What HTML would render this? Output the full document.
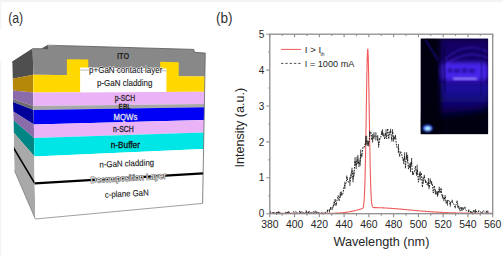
<!DOCTYPE html>
<html><head><meta charset="utf-8"><style>
html,body{margin:0;padding:0;background:#fff;}
body{width:503px;height:256px;overflow:hidden;position:relative;}
svg{position:absolute;left:0;top:0;display:block;}
</style></head><body>
<svg width="503" height="256" viewBox="0 0 503 256">
<rect x="0" y="0" width="503" height="256" fill="#fff"/>
<rect x="0" y="0" width="503" height="2" fill="#f3f3f3"/>
<rect x="0" y="0" width="1.2" height="256" fill="#f4f4f4"/>
<g font-family="Liberation Sans, sans-serif" fill="#333">
<text x="8.2" y="23" font-size="14" textLength="15" lengthAdjust="spacingAndGlyphs">(a)</text>
<text x="216" y="23" font-size="14" textLength="16.6" lengthAdjust="spacingAndGlyphs">(b)</text>
</g>
<clipPath id="lf"><polygon points="12.2,62 32.8,48.7 35.3,219 14.4,170.5"/></clipPath>
<g clip-path="url(#lf)">
<polygon points="32.67,40 33.18,74.8 12.54,78.84 12.06,55" fill="#4F4F4F"/>
<polygon points="33.18,74.8 33.44,92.5 12.78,90.47 12.54,78.84" fill="#B5880A"/>
<polygon points="33.44,92.5 33.64,106 12.96,99.34 12.78,90.47" fill="#8C6BAA"/>
<polygon points="33.64,106 33.7,110 13.01,101.97 12.96,99.34" fill="#6E6E6E"/>
<polygon points="33.7,110 33.91,124.4 13.2,111.43 13.01,101.97" fill="#000099"/>
<polygon points="33.91,124.4 34.11,137.9 13.38,120.3 13.2,111.43" fill="#8C6BAA"/>
<polygon points="34.11,137.9 34.38,156.4 13.63,132.45 13.38,120.3" fill="#008585"/>
<polygon points="34.38,156.4 35.46,230 14.61,180.81 13.63,132.45" fill="#A9A9A9"/>
<line x1="34.78" y1="183.4" x2="10.95" y2="143.5" stroke="#000" stroke-width="1.6"/>
</g>
<polygon points="32.76,46 205.43,46 204.88,76.4 33.18,74.8" fill="#888888"/>
<polygon points="33.18,74.8 204.88,76.4 204.6,91.8 33.44,92.5" fill="#FFD800"/>
<polygon points="33.44,92.5 204.6,91.8 204.39,103.9 33.64,106" fill="#EBB3F7"/>
<polygon points="33.64,106 204.39,103.9 204.33,107.2 33.7,110" fill="#A8A8A8"/>
<polygon points="33.7,110 204.33,107.2 204.1,119.9 33.91,124.4" fill="#0000F5"/>
<polygon points="33.91,124.4 204.1,119.9 203.87,132.5 34.11,137.9" fill="#EBB3F7"/>
<polygon points="34.11,137.9 203.87,132.5 203.58,149 34.38,156.4" fill="#00E6E6"/>
<polygon points="34.38,156.4 203.58,149 202.6,203.4 35.3,219" fill="#FFFFFF"/>
<polygon points="0,30 220,30 220,53.1 205.3,53.1 194.5,52.3 193.7,49.4 47.9,45.2 41.9,48.7 32.8,48.7 0,62" fill="#fff"/>
<polygon points="41.9,48.7 47.9,45.2 47.9,49.2" fill="#555"/>
<polyline points="32.8,48.7 41.9,48.7 47.9,45.2 193.7,49.4 194.5,52.3 205.3,53.1" fill="none" stroke="#555" stroke-width="0.8"/>
<polyline points="12.2,62 32.8,48.7" fill="none" stroke="#3a3a3a" stroke-width="0.8"/>
<polygon points="66.9,75.2 66.9,59.2 88.3,59.5 88.3,76" fill="#FFD800"/>
<polygon points="160.2,77 160.2,61.8 178.7,62.2 178.7,77" fill="#FFD800"/>
<polygon points="80.1,67.4 166.4,68.6 166.4,92 80.1,92.3" fill="#fff"/>
<line x1="80.1" y1="70" x2="166.4" y2="70.8" stroke="#9a9a9a" stroke-width="0.7"/>
<line x1="34.78" y1="183.4" x2="203.14" y2="173.3" stroke="#000" stroke-width="2.3"/>
<line x1="35.3" y1="219" x2="202.6" y2="203.4" stroke="#777" stroke-width="0.7"/>
<line x1="205.3" y1="53.1" x2="202.6" y2="203.4" stroke="#666" stroke-width="0.8"/>
<line x1="35.3" y1="219" x2="14.4" y2="170.5" stroke="#666" stroke-width="0.6"/>
<g font-family="Liberation Sans, sans-serif">
<text x="117" y="59.2" font-size="8.6" textLength="12.2" lengthAdjust="spacingAndGlyphs" fill="#1e1e1e" font-weight="bold">ITO</text>
<text x="89" y="72.6" font-size="8.4" textLength="73.3" lengthAdjust="spacingAndGlyphs" fill="#000" font-weight="normal" stroke="#fff" stroke-width="0.9" paint-order="stroke">p+GaN contact layer</text>
<text x="97" y="85.8" font-size="8.4" textLength="55.4" lengthAdjust="spacingAndGlyphs" fill="#1a1a1a" font-weight="normal" stroke="#1a1a1a" stroke-width="0.12">p-GaN cladding</text>
<text x="114.8" y="101" font-size="8.2" textLength="20.4" lengthAdjust="spacingAndGlyphs" fill="#2a2a2a" font-weight="normal" stroke="#2a2a2a" stroke-width="0.3">p-SCH</text>
<text x="118.6" y="109.4" font-size="8" textLength="12.2" lengthAdjust="spacingAndGlyphs" fill="#151515" font-weight="normal" stroke="#151515" stroke-width="0.3">EBL</text>
<text x="113.6" y="120" font-size="8.6" textLength="23.7" lengthAdjust="spacingAndGlyphs" fill="#e0e0ea" font-weight="normal" stroke="#e0e0ea" stroke-width="0.3">MQWs</text>
<text x="113.1" y="132.2" font-size="8.4" textLength="20.6" lengthAdjust="spacingAndGlyphs" fill="#222" font-weight="normal" stroke="#222" stroke-width="0.3">n-SCH</text>
<text x="110.8" y="147.6" font-size="8.6" textLength="29.1" lengthAdjust="spacingAndGlyphs" fill="#111" font-weight="normal" stroke="#111" stroke-width="0.3">n-Buffer</text>
<text x="99.5" y="166.4" font-size="8.6" textLength="54.7" lengthAdjust="spacingAndGlyphs" fill="#1a1a1a" font-weight="normal" transform="rotate(-2.2 126.85 166.4)" stroke="#1a1a1a" stroke-width="0.12">n-GaN cladding</text>
<text x="90.8" y="180.8" font-size="8.4" textLength="75.5" lengthAdjust="spacingAndGlyphs" fill="#f4f4f4" font-weight="normal" transform="rotate(-3.5 128.55 180.8)" stroke="#5a5a5a" stroke-width="1.0" paint-order="stroke">Decomposition Layer</text>
<text x="105" y="196.5" font-size="8.6" textLength="43.8" lengthAdjust="spacingAndGlyphs" fill="#1a1a1a" font-weight="normal" transform="rotate(-3 126.9 196.5)" stroke="#1a1a1a" stroke-width="0.12">c-plane GaN</text>
</g>
<defs>
<radialGradient id="dome" cx="0.5" cy="0.5" r="0.5"><stop offset="0" stop-color="#5a3cff" stop-opacity="0.95"/><stop offset="0.6" stop-color="#3a20e0" stop-opacity="0.7"/><stop offset="1" stop-color="#1a0a90" stop-opacity="0"/></radialGradient>
<radialGradient id="lower" cx="0.5" cy="0.3" r="0.6"><stop offset="0" stop-color="#2a18c8" stop-opacity="0.9"/><stop offset="1" stop-color="#0a0450" stop-opacity="0"/></radialGradient>
<radialGradient id="led" cx="0.5" cy="0.5" r="0.5"><stop offset="0" stop-color="#c8f8ff"/><stop offset="0.35" stop-color="#50b0ff"/><stop offset="0.7" stop-color="#2040ff" stop-opacity="0.7"/><stop offset="1" stop-color="#1010a0" stop-opacity="0"/></radialGradient>
<filter id="bl" x="-30%" y="-30%" width="160%" height="160%"><feGaussianBlur stdDeviation="1.6"/></filter>
<filter id="bl3" x="-30%" y="-30%" width="160%" height="160%"><feGaussianBlur stdDeviation="3"/></filter>
<filter id="bl4" x="-50%" y="-50%" width="200%" height="200%"><feGaussianBlur stdDeviation="2.2"/></filter>
<linearGradient id="vg" x1="0" y1="0" x2="0" y2="1"><stop offset="0" stop-color="#2410c0"/><stop offset="0.5" stop-color="#140880"/><stop offset="1" stop-color="#040028"/></linearGradient>
<filter id="bl2" x="-30%" y="-30%" width="160%" height="160%"><feGaussianBlur stdDeviation="0.8"/></filter>
<clipPath id="inset"><rect x="420.6" y="38.4" width="67.6" height="95.9"/></clipPath>
</defs>
<g clip-path="url(#inset)">
<rect x="420.6" y="38.4" width="67.6" height="95.9" fill="#020012"/>
<g filter="url(#bl3)">
<polygon points="439,38 490,38 490,84 439,84" fill="#180680" opacity="0.75"/>
<polygon points="440,83 490,83 490,104 472,114 440,120" fill="url(#vg)" opacity="0.9"/>
<polygon points="420,116 490,108 490,134 420,134" fill="#020014" opacity="0.8"/>
</g>
<g filter="url(#bl4)">
<rect x="442" y="62" width="46" height="19" rx="5" fill="#5028ff" opacity="0.85"/>
<polygon points="420,38 438,38 440,134 420,134" fill="#000008" opacity="0.95"/>
</g>
<g fill="none" stroke="#5a34ff" stroke-width="1.1" opacity="0.6" filter="url(#bl2)"><path d="M444 60 Q466 40 488 52"/><path d="M444 66 Q466 48 488 58"/></g>
<rect x="453" y="77.6" width="24" height="2.4" fill="#a08cff" opacity="0.9" filter="url(#bl2)"/>
<g fill="#160670" opacity="0.6" filter="url(#bl2)"><rect x="448" y="68.5" width="4" height="4"/><rect x="454" y="69" width="6" height="3.5"/><rect x="462" y="68.5" width="5" height="4"/><rect x="469" y="69" width="6" height="3.5"/></g>
<line x1="425.5" y1="40" x2="438" y2="60" stroke="#2a18e0" stroke-width="1" filter="url(#bl2)"/>
<line x1="444" y1="45" x2="445" y2="92" stroke="#06003a" stroke-width="1.8" opacity="0.7" filter="url(#bl2)"/>
<line x1="482" y1="48" x2="481" y2="96" stroke="#08004a" stroke-width="1.2" opacity="0.6" filter="url(#bl2)"/>
<g filter="url(#bl2)"><ellipse cx="427.6" cy="128.2" rx="5" ry="3.5" fill="#2850ff"/><ellipse cx="427.8" cy="128.4" rx="3" ry="2" fill="#b8f4ff"/></g>
</g>
<polyline points="269.8,213.34 270.42,213.34 271.04,213.34 271.66,213.34 272.28,213.34 272.9,213.34 273.51,213.34 274.13,213.34 274.75,213.34 275.37,213.34 275.99,213.34 276.61,213.34 277.23,213.34 277.85,213.34 278.47,213.34 279.09,213.34 279.71,213.34 280.33,213.34 280.94,213.34 281.56,213.34 282.18,213.34 282.8,213.34 283.42,213.34 284.04,213.34 284.66,213.34 285.28,213.34 285.9,213.34 286.52,213.34 287.14,213.34 287.76,213.34 288.38,213.34 288.99,213.34 289.61,213.34 290.23,213.34 290.85,213.34 291.47,213.34 292.09,213.34 292.71,213.34 293.33,213.34 293.95,213.34 294.57,213.34 295.19,213.34 295.81,213.34 296.42,213.34 297.04,213.34 297.66,213.34 298.28,213.34 298.9,213.34 299.52,213.34 300.14,213.34 300.76,213.34 301.38,213.34 302,213.34 302.62,213.34 303.24,213.34 303.85,213.34 304.47,213.34 305.09,213.34 305.71,213.34 306.33,213.34 306.95,213.34 307.57,213.34 308.19,213.34 308.81,213.34 309.43,213.34 310.05,213.34 310.67,213.34 311.28,213.34 311.9,213.34 312.52,213.34 313.14,213.34 313.76,213.34 314.38,213.34 315,213.34 315.62,213.34 316.24,213.34 316.86,213.34 317.48,213.34 318.1,213.34 318.71,213.34 319.33,213.34 319.95,213.34 320.57,213.34 321.19,213.33 321.81,213.33 322.43,213.33 323.05,213.33 323.67,213.33 324.29,213.33 324.91,213.32 325.52,213.32 326.14,213.32 326.76,213.31 327.38,213.31 328,213.3 328.62,213.3 329.24,213.29 329.86,213.29 330.48,213.28 331.1,213.27 331.72,213.26 332.34,213.25 332.96,213.23 333.57,213.22 334.19,213.2 334.81,213.18 335.43,213.16 336.05,213.14 336.67,213.12 337.29,213.09 337.91,213.06 338.53,213.03 339.15,212.99 339.77,212.95 340.38,212.91 341,212.86 341.62,212.81 342.24,212.75 342.86,212.7 343.48,212.63 344.1,212.56 344.72,212.49 345.34,212.41 345.96,212.33 346.58,212.24 347.2,212.15 347.81,212.05 348.43,211.94 349.05,211.84 349.67,211.72 350.29,211.6 350.91,211.48 351.53,211.35 352.15,211.21 352.77,211.07 353.39,210.93 354.01,210.79 354.63,210.64 355.25,210.48 355.86,210.33 356.48,210.17 357.1,210.02 357.23,209.98 357.35,209.95 357.47,209.92 357.6,209.89 357.72,209.86 357.85,209.83 357.97,209.79 358.09,209.76 358.22,209.73 358.34,209.7 358.46,209.67 358.59,209.64 358.71,209.6 358.84,209.57 358.96,209.54 359.08,209.51 359.21,209.48 359.33,209.45 359.46,209.42 359.58,209.39 359.7,209.35 359.83,209.32 359.95,209.29 360.07,209.26 360.2,209.23 360.32,209.2 360.45,209.17 360.57,209.14 360.69,209.11 360.82,209.08 360.94,209.05 361.07,209.01 361.19,208.98 361.31,208.95 361.44,208.91 361.56,208.88 361.68,208.84 361.81,208.79 361.93,208.74 362.06,208.69 362.18,208.62 362.3,208.54 362.43,208.45 362.55,208.33 362.68,208.19 362.8,208.01 362.92,207.79 363.05,207.52 363.17,207.18 363.29,206.75 363.42,206.24 363.54,205.6 363.67,204.82 363.79,203.88 363.91,202.75 364.04,201.39 364.16,199.79 364.28,197.89 364.41,195.67 364.53,193.1 364.66,190.13 364.78,186.75 364.9,182.92 365.03,178.63 365.15,173.84 365.28,168.57 365.4,162.81 365.52,156.58 365.65,149.91 365.77,142.82 365.89,135.39 366.02,127.68 366.14,119.76 366.27,111.74 366.39,103.72 366.51,95.82 366.64,88.15 366.76,80.85 366.89,74.04 367.01,67.85 367.13,62.38 367.26,57.75 367.38,54.04 367.5,51.33 367.63,49.68 367.75,49.12 367.88,49.65 368,51.28 368.12,53.96 368.25,57.64 368.37,62.25 368.5,67.69 368.62,73.86 368.74,80.64 368.87,87.91 368.99,95.55 369.11,103.43 369.24,111.42 369.36,119.42 369.49,127.31 369.61,135 369.73,142.4 369.86,149.46 369.98,156.11 370.11,162.32 370.23,168.05 370.35,173.3 370.48,178.05 370.6,182.32 370.72,186.13 370.85,189.49 370.97,192.42 371.1,194.97 371.22,197.17 371.34,199.04 371.47,200.63 371.59,201.96 371.71,203.06 371.84,203.98 371.96,204.73 372.09,205.34 372.21,205.84 372.33,206.23 372.46,206.55 372.58,206.79 372.71,206.99 372.83,207.14 372.95,207.26 373.08,207.34 373.2,207.41 373.32,207.46 373.45,207.5 373.57,207.53 373.7,207.56 373.82,207.57 373.94,207.58 374.07,207.59 374.19,207.6 374.32,207.61 374.44,207.61 374.56,207.61 374.69,207.62 374.81,207.62 374.93,207.62 375.06,207.62 375.18,207.63 375.31,207.63 375.43,207.63 375.55,207.63 375.68,207.64 375.8,207.64 375.93,207.64 376.05,207.64 376.17,207.65 376.3,207.65 376.42,207.65 376.54,207.65 376.67,207.66 376.79,207.66 376.92,207.66 377.04,207.66 377.16,207.67 377.29,207.67 377.41,207.67 377.54,207.68 377.66,207.68 377.78,207.68 377.91,207.69 378.03,207.69 378.15,207.69 378.28,207.7 378.4,207.7 378.53,207.7 378.65,207.71 378.77,207.71 379.39,207.73 380.01,207.75 380.63,207.77 381.25,207.8 381.87,207.82 382.49,207.85 383.11,207.88 383.73,207.91 384.35,207.94 384.97,207.97 385.58,208 386.2,208.04 386.82,208.07 387.44,208.11 388.06,208.15 388.68,208.19 389.3,208.23 389.92,208.27 390.54,208.31 391.16,208.36 391.78,208.4 392.4,208.45 393.01,208.5 393.63,208.54 394.25,208.59 394.87,208.64 395.49,208.69 396.11,208.74 396.73,208.79 397.35,208.85 397.97,208.9 398.59,208.95 399.21,209.01 399.83,209.06 400.44,209.11 401.06,209.17 401.68,209.23 402.3,209.28 402.92,209.34 403.54,209.4 404.16,209.45 404.78,209.51 405.4,209.57 406.02,209.63 406.64,209.68 407.26,209.74 407.87,209.8 408.49,209.86 409.11,209.92 409.73,209.97 410.35,210.03 410.97,210.09 411.59,210.15 412.21,210.2 412.83,210.26 413.45,210.32 414.07,210.38 414.69,210.43 415.3,210.49 415.92,210.55 416.54,210.6 417.16,210.66 417.78,210.71 418.4,210.77 419.02,210.82 419.64,210.87 420.26,210.93 420.88,210.98 421.5,211.03 422.12,211.08 422.73,211.13 423.35,211.19 423.97,211.24 424.59,211.28 425.21,211.33 425.83,211.38 426.45,211.43 427.07,211.48 427.69,211.52 428.31,211.57 428.93,211.61 429.55,211.66 430.16,211.7 430.78,211.74 431.4,211.79 432.02,211.83 432.64,211.87 433.26,211.91 433.88,211.95 434.5,211.99 435.12,212.02 435.74,212.06 436.36,212.1 436.98,212.13 437.59,212.17 438.21,212.2 438.83,212.24 439.45,212.27 440.07,212.3 440.69,212.34 441.31,212.37 441.93,212.4 442.55,212.43 443.17,212.45 443.79,212.48 444.41,212.51 445.02,212.54 445.64,212.56 446.26,212.59 446.88,212.61 447.5,212.64 448.12,212.66 448.74,212.69 449.36,212.71 449.98,212.73 450.6,212.75 451.22,212.77 451.84,212.79 452.45,212.81 453.07,212.83 453.69,212.85 454.31,212.87 454.93,212.88 455.55,212.9 456.17,212.92 456.79,212.93 457.41,212.95 458.03,212.96 458.65,212.98 459.27,212.99 459.88,213.01 460.5,213.02 461.12,213.03 461.74,213.04 462.36,213.06 462.98,213.07 463.6,213.08 464.22,213.09 464.84,213.1 465.46,213.11 466.08,213.12 466.7,213.13 467.31,213.14 467.93,213.15 468.55,213.15 469.17,213.16 469.79,213.17 470.41,213.18 471.03,213.18 471.65,213.19 472.27,213.2 472.89,213.2 473.51,213.21 474.13,213.22 474.74,213.22 475.36,213.23 475.98,213.23 476.6,213.24 477.22,213.24 477.84,213.25 478.46,213.25 479.08,213.26 479.7,213.26 480.32,213.26 480.94,213.27 481.56,213.27 482.17,213.27 482.79,213.28 483.41,213.28 484.03,213.28 484.65,213.29 485.27,213.29 485.89,213.29 486.51,213.29 487.13,213.3 487.75,213.3 488.37,213.3 488.99,213.3 489.6,213.3 490.22,213.31 490.84,213.31 491.46,213.31 492.08,213.31" fill="none" stroke="#F05A5A" stroke-width="1.1" stroke-linejoin="round"/>
<polyline points="269.8,213.23 270.79,212.48 271.78,213.24 272.77,212.98 273.76,212.46 274.75,212.46 275.74,213.7 276.73,213.4 277.73,212.31 278.72,212.36 279.71,213.26 280.7,213.02 281.69,213.7 282.68,213.45 283.67,213.12 284.66,213.58 285.65,211.75 286.64,213.7 287.63,212.11 288.62,212.17 289.61,212.74 290.6,213.7 291.59,213.29 292.59,213.7 293.58,211.55 294.57,213.7 295.56,211.39 296.55,212.24 297.54,212.45 298.53,213.53 299.52,211.7 300.51,212.63 301.5,211.83 302.49,212.24 303.48,211.93 304.47,213.7 305.46,213.7 306.45,211.14 307.45,213.7 308.44,212.61 309.43,211.26 310.42,213.17 311.41,212.86 312.4,213.01 313.39,211.44 314.38,213.7 315.37,211.55 316.36,211.82 317.35,212.66 318.34,212.66 319.33,213.09 320.32,213.03 321.31,212.99 322.31,212.25 323.3,213.7 324.29,212.38 325.28,212.51 326.27,212.07 327.26,210.95 328.25,210.16 329.24,210.91 330.23,208.51 331.22,207.15 332.21,209.87 333.2,206.29 334.19,203.41 335.18,199.06 336.17,204.88 337.17,199.78 338.16,195.58 339.15,200.94 340.14,194.77 341.13,193.5 342.12,195.4 343.11,192.67 344.1,185.89 345.09,185.38 346.08,182.78 347.07,177.1 348.06,181.8 349.05,182.18 350.04,181.46 351.03,175.66 352.03,170.39 353.02,179.15 354.01,174.08 355,160.81 355.99,165.91 356.98,160.31 357.97,159.37 358.96,164.27 359.95,161.92 360.94,153.94 361.93,155.83 362.92,147.4 363.91,147.81 364.9,144.62 365.89,140.73 366.89,140.2 367.88,143.64 368.87,143.58 369.86,133.67 370.85,131.83 371.84,139.05 372.83,138.31 373.82,135.62 374.81,136.17 375.8,136.34 376.79,136.3 377.78,138.17 378.77,144.9 379.76,139.1 380.75,137.19 381.75,132.57 382.74,132.49 383.73,134.92 384.72,139.25 385.71,132.92 386.7,138.83 387.69,128.49 388.68,137.73 389.67,132.66 390.66,130.68 391.65,139.67 392.64,131.83 393.63,138.92 394.62,137.99 395.61,136.68 396.61,147.18 397.6,147.36 398.59,148.47 399.58,156.55 400.57,151.32 401.56,153.52 402.55,159.08 403.54,161.23 404.53,156.14 405.52,167.11 406.51,155.59 407.5,158.29 408.49,169.14 409.48,165.7 410.47,167.38 411.47,161.48 412.46,173.12 413.45,173.79 414.44,171.76 415.43,166.24 416.42,174.31 417.41,169.5 418.4,182.18 419.39,174.25 420.38,175.79 421.37,172.94 422.36,187.16 423.35,180.32 424.34,176.2 425.33,181.63 426.33,181.6 427.32,185.29 428.31,181.87 429.3,187.33 430.29,180.52 431.28,182.93 432.27,183.01 433.26,193.1 434.25,185.56 435.24,191.99 436.23,192.93 437.22,194.16 438.21,193.21 439.2,189.35 440.19,193.3 441.19,189.09 442.18,196.59 443.17,195.66 444.16,199.69 445.15,196.71 446.14,202.19 447.13,203.01 448.12,199.65 449.11,200.88 450.1,204.43 451.09,201.67 452.08,201.18 453.07,203.55 454.06,204.36 455.05,207.11 456.05,204.57 457.04,201.66 458.03,206.42 459.02,207.49 460.01,211.13 461,206.81 461.99,209.33 462.98,208.6 463.97,209.36 464.96,207.63 465.95,210.25 466.94,210.95 467.93,211.31 468.92,210.78 469.91,210.87 470.91,212.06 471.9,212.66 472.89,213.7 473.88,209.63 474.87,212.98 475.86,210.74 476.85,212.12 477.84,212.53 478.83,211.09 479.82,211.34 480.81,212.11 481.8,213.29 482.79,210.6 483.78,211.1 484.77,211.98 485.77,212.09 486.76,211.62 487.75,212.36" fill="none" stroke="#1a1a1a" stroke-width="1.0" stroke-dasharray="1.6 1.2"/>
<path d="M270.53 211.3V213.65 M272.97 212.13V213.82 M276.52 211.98V214.81 M278.64 211.12V213.59 M279.66 212.3V214.21 M288.72 211.05V213.29 M299.68 210.85V212.54 M300.73 211.66V213.6 M306.29 210.23V212.04 M308.48 211.51V213.71 M315.17 210.73V212.38 M317.07 211.79V213.52 M323.15 212.84V214.56 M327.48 209.62V212.28 M329.41 209.43V212.39 M330.52 207.28V209.74 M333.07 205.5V207.08 M334.16 201.38V205.44 M335.99 203.71V206.04 M340.31 191.89V197.64 M341.31 191.51V195.5 M344.88 181.8V188.96 M346.78 175.54V178.66 M349.87 177.16V185.75 M350.99 173.56V177.75 M352 167.72V173.06 M353.04 175.96V182.34 M353.82 171.78V176.39 M355.03 157.17V164.45 M356.16 162.83V169 M356.98 156.65V163.97 M357.94 154.85V163.88 M358.98 161.41V167.12 M360.18 158.01V165.82 M360.72 149.55V158.34 M361.78 154.49V157.16 M365.73 135.93V145.53 M366.68 135.8V144.61 M367.69 141.32V145.97 M368.58 140.87V146.29 M369.6 130.66V136.68 M372.01 137.96V140.14 M372.68 134.01V142.61 M373.94 132.18V139.06 M375.88 132.25V140.42 M377.69 135.18V141.15 M378.62 142.21V147.59 M379.59 138.05V140.14 M381.65 130.83V134.32 M382.55 129.27V135.72 M383.92 133.09V136.74 M386 129.38V136.46 M388.82 136.64V138.83 M389.88 131.49V133.83 M390.64 128.72V132.63 M391.93 137.66V141.67 M392.56 129.28V134.39 M393.63 136.22V141.62 M394.56 136.73V139.25 M395.45 134.85V138.52 M398.38 144.03V152.91 M403.74 158.32V164.14 M404.65 152.33V159.95 M405.44 165.87V168.35 M406.62 152.17V159 M407.65 154.74V161.83 M409.23 163.52V167.89 M410.47 162.66V172.1 M411.63 157.98V164.99 M412.6 171.37V174.87 M413.18 172.57V175.01 M416.65 172.79V175.82 M417.12 164.74V174.26 M419.66 172.56V175.93 M420.16 171.31V180.27 M423.07 177.29V183.34 M424.25 174.78V177.63 M425.49 180.24V183.01 M428.36 177.98V185.75 M429.03 185.51V189.16 M430.15 178.4V182.64 M431.55 181.08V184.79 M435.39 189.67V194.32 M436.22 191.21V194.65 M437.51 191.63V196.69 M438.01 191.25V195.18 M439.2 186.68V192.02 M440.94 187.89V190.3 M442.41 194.66V198.53 M443.89 198.12V201.26 M445.15 195.04V198.37 M446.08 200.88V203.51 M447.35 200.37V205.64 M450.3 202.29V206.57 M452.19 199.75V202.6 M455.22 205.91V208.31 M457.12 200.61V202.7 M457.96 204.85V208 M458.9 206.28V208.7 M461.87 207.48V211.17 M462.93 207.15V210.05 M464.91 206.72V208.54 M468.76 209.35V212.21 M470.86 211.11V213.01 M472.18 211.56V213.76 M472.82 212.9V214.5 M475.58 209.14V212.34 M478.74 210.28V211.89 M486.92 210.47V212.77 M487.9 210.9V213.83" stroke="#1e1e1e" stroke-width="0.85" fill="none"/>
<rect x="269.8" y="34.2" width="222.9" height="179.5" fill="none" stroke="#8e8e8e" stroke-width="1.3"/>
<path d="M269.8 213.7V217.2 M269.8 34.2V37.2 M282.18 213.7V215.7 M282.18 34.2V36 M294.57 213.7V217.2 M294.57 34.2V37.2 M306.95 213.7V215.7 M306.95 34.2V36 M319.33 213.7V217.2 M319.33 34.2V37.2 M331.72 213.7V215.7 M331.72 34.2V36 M344.1 213.7V217.2 M344.1 34.2V37.2 M356.48 213.7V215.7 M356.48 34.2V36 M368.87 213.7V217.2 M368.87 34.2V37.2 M381.25 213.7V215.7 M381.25 34.2V36 M393.63 213.7V217.2 M393.63 34.2V37.2 M406.02 213.7V215.7 M406.02 34.2V36 M418.4 213.7V217.2 M418.4 34.2V37.2 M430.78 213.7V215.7 M430.78 34.2V36 M443.17 213.7V217.2 M443.17 34.2V37.2 M455.55 213.7V215.7 M455.55 34.2V36 M467.93 213.7V217.2 M467.93 34.2V37.2 M480.32 213.7V215.7 M480.32 34.2V36 M492.7 213.7V217.2 M492.7 34.2V37.2 M269.8 213.7H266.3 M269.8 195.75H268.3 M269.8 177.8H266.3 M269.8 159.85H268.3 M269.8 141.9H266.3 M269.8 123.95H268.3 M269.8 106H266.3 M269.8 88.05H268.3 M269.8 70.1H266.3 M269.8 52.15H268.3 M269.8 34.2H266.3" stroke="#8e8e8e" stroke-width="1.1" fill="none"/>
<g font-family="Liberation Sans, sans-serif" fill="#262626">
<text x="264.3" y="217.3" font-size="10" text-anchor="end">0</text>
<text x="264.3" y="181.4" font-size="10" text-anchor="end">1</text>
<text x="264.3" y="145.5" font-size="10" text-anchor="end">2</text>
<text x="264.3" y="109.6" font-size="10" text-anchor="end">3</text>
<text x="264.3" y="73.7" font-size="10" text-anchor="end">4</text>
<text x="264.3" y="37.8" font-size="10" text-anchor="end">5</text>
<text x="269.8" y="227.7" font-size="10.4" text-anchor="middle">380</text>
<text x="294.57" y="227.7" font-size="10.4" text-anchor="middle">400</text>
<text x="319.33" y="227.7" font-size="10.4" text-anchor="middle">420</text>
<text x="344.1" y="227.7" font-size="10.4" text-anchor="middle">440</text>
<text x="368.87" y="227.7" font-size="10.4" text-anchor="middle">460</text>
<text x="393.63" y="227.7" font-size="10.4" text-anchor="middle">480</text>
<text x="418.4" y="227.7" font-size="10.4" text-anchor="middle">500</text>
<text x="443.17" y="227.7" font-size="10.4" text-anchor="middle">520</text>
<text x="467.93" y="227.7" font-size="10.4" text-anchor="middle">540</text>
<text x="492.7" y="227.7" font-size="10.4" text-anchor="middle">560</text>
<text x="333.4" y="246" font-size="12.4" textLength="96" lengthAdjust="spacingAndGlyphs">Wavelength (nm)</text>
<text x="0" y="0" font-size="12" textLength="79.5" lengthAdjust="spacingAndGlyphs" transform="translate(243.9 167.4) rotate(-90)">Intensity (a.u.)</text>
<line x1="281" y1="49.4" x2="301.2" y2="49.4" stroke="#F05A5A" stroke-width="1"/>
<line x1="281" y1="63.4" x2="301.2" y2="63.4" stroke="#555" stroke-width="1" stroke-dasharray="2.4 1.9"/>
<text x="304.8" y="53.3" font-size="9.6">I &gt; I</text>
<text x="320.4" y="56" font-size="4.8">th</text>
<text x="304.8" y="67.4" font-size="9.6" textLength="49.6" lengthAdjust="spacingAndGlyphs">I = 1000 mA</text>
</g>
</svg>
</body></html>
